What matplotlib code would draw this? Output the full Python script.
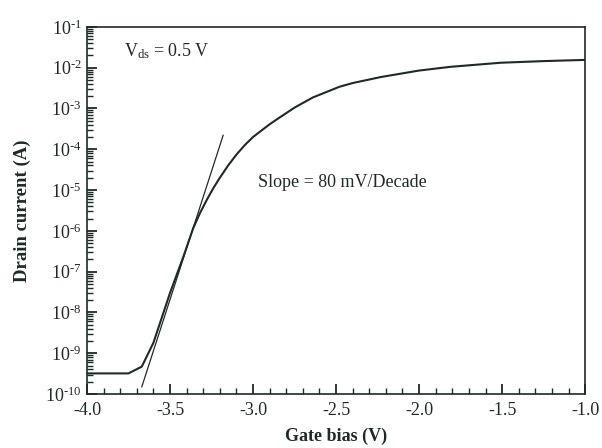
import matplotlib
matplotlib.use("Agg")
import matplotlib.pyplot as plt
from matplotlib.ticker import LogLocator, MultipleLocator, NullFormatter

plt.rcParams['font.family'] = ['Liberation Serif', 'DejaVu Serif']
plt.rcParams['mathtext.fontset'] = 'custom'
plt.rcParams['mathtext.rm'] = 'Liberation Serif'
plt.rcParams['mathtext.it'] = 'Liberation Serif:italic'
plt.rcParams['mathtext.bf'] = 'Liberation Serif:bold'

# Data
gate_bias = [-4.0, -3.75, -3.67, -3.60, -3.50, -3.42, -3.36, -3.32, -3.28, -3.24,
             -3.20, -3.15, -3.10, -3.05, -3.00, -2.90, -2.84, -2.75, -2.64, -2.48,
             -2.40, -2.23, -2.00, -1.81, -1.51, -1.25, -1.00]
drain_current = [3.2e-10, 3.2e-10, 4.7e-10, 1.8e-9, 3.0e-8, 2.3e-7, 1.17e-6, 2.7e-6,
                 5.6e-6, 1.1e-5, 2.0e-5, 4.0e-5, 7.4e-5, 1.26e-4, 2.0e-4, 4.1e-4,
                 6.0e-4, 1.05e-3, 1.86e-3, 3.4e-3, 4.2e-3, 5.9e-3, 8.5e-3, 1.05e-2,
                 1.32e-2, 1.45e-2, 1.55e-2]
tangent_bias = [-3.67, -3.18]
tangent_current = [1.5e-10, 2.2e-4]

x_ticks = [-4.0, -3.5, -3.0, -2.5, -2.0, -1.5, -1.0]
x_tick_labels = ["-4.0", "-3.5", "-3.0", "-2.5", "-2.0", "-1.5", "-1.0"]
y_exponents = [-10, -9, -8, -7, -6, -5, -4, -3, -2, -1]

fig = plt.figure(figsize=(6.02, 4.48), dpi=100)
ax = fig.add_axes([0.1445, 0.1205, 0.8275, 0.8195])

ink = '#1e2a26'
ax.plot(gate_bias, drain_current, color=ink, lw=1.5)
ax.plot(tangent_bias, tangent_current, color=ink, lw=0.9)

ax.set_yscale('log')
ax.set_xlim(-4.0, -1.0)
ax.set_ylim(1e-10, 1e-1)

ax.set_xticks(x_ticks)
ax.set_xticklabels(x_tick_labels)
ax.xaxis.set_minor_locator(MultipleLocator(0.1))

ax.set_yticks([10.0**e for e in y_exponents])
ax.set_yticklabels([r"10$^{\text{%d}}$" % e for e in y_exponents])
ax.yaxis.set_minor_locator(LogLocator(base=10, subs=range(2, 10), numticks=20))
ax.yaxis.set_minor_formatter(NullFormatter())

ax.tick_params(axis='both', which='both', direction='in', top=False, right=False,
               colors=ink, labelsize=13)
ax.tick_params(axis='both', which='major', length=7, width=1.3)
ax.tick_params(axis='both', which='minor', length=4, width=1.0)
ax.tick_params(axis='x', pad=6)
ax.tick_params(axis='y', pad=4)

for s in ax.spines.values():
    s.set_color(ink)
    s.set_linewidth(1.2)

ax.set_xlabel("Gate bias (V)", fontsize=13, fontweight='bold', labelpad=6, color=ink)
ax.set_ylabel("Drain current (A)", fontsize=13.5, fontweight='bold', labelpad=10, color=ink)

ax.text(0.074, 0.935, r"V$_{\mathrm{ds}}$ = 0.5 V", transform=ax.transAxes,
        fontsize=13, va='center', ha='left', color=ink)
ax.text(0.343, 0.575, "Slope = 80 mV/Decade", transform=ax.transAxes,
        fontsize=13, va='center', ha='left', color=ink)

fig.savefig("out.png", dpi=100)
